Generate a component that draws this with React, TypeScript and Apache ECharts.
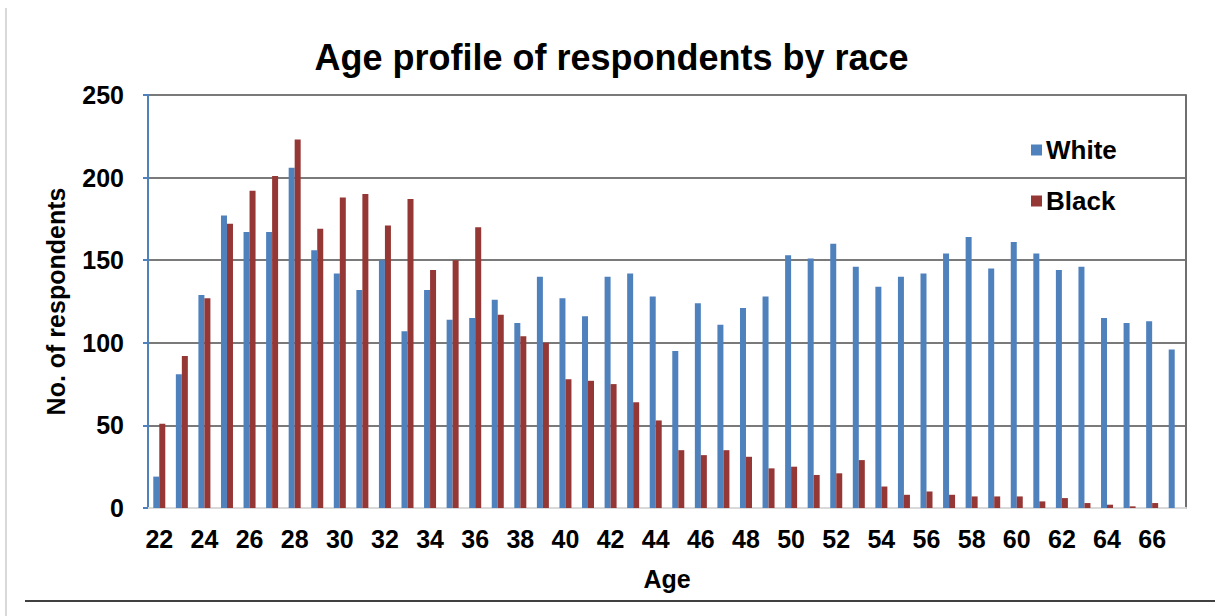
import React, { useEffect, useRef } from "react";
import * as echarts from "echarts";

const ages: string[] = [
  "22","23","24","25","26","27","28","29","30","31","32","33","34","35","36","37",
  "38","39","40","41","42","43","44","45","46","47","48","49","50","51","52","53",
  "54","55","56","57","58","59","60","61","62","63","64","65","66","67",
];

const white: number[] = [
  19, 81, 129, 177, 167, 167, 206, 156, 142, 132, 150, 107, 132, 114, 115, 126,
  112, 140, 127, 116, 140, 142, 128, 95, 124, 111, 121, 128, 153, 151, 160, 146,
  134, 140, 142, 154, 164, 145, 161, 154, 144, 146, 115, 112, 113, 96,
];

const black: (number | null)[] = [
  51, 92, 127, 172, 192, 201, 223, 169, 188, 190, 171, 187, 144, 150, 170, 117,
  104, 100, 78, 77, 75, 64, 53, 35, 32, 35, 31, 24, 25, 20, 21, 29,
  13, 8, 10, 8, 7, 7, 7, 4, 6, 3, 2, 1, 3, null,
];

const yTicks = { min: 0, max: 250, interval: 50 };

export default function App() {
  const ref = useRef<HTMLDivElement>(null);
  useEffect(() => {
    if (!ref.current) return;
    const chart = echarts.init(ref.current, undefined, { renderer: "svg" });
    const font = "'Liberation Sans', Arial, sans-serif";
    chart.setOption({
      animation: false,
      backgroundColor: "#ffffff",
      textStyle: { fontFamily: font },
      title: {
        text: "Age profile of respondents by race",
        left: "center",
        top: 34,
        textStyle: { fontSize: 36, fontWeight: "bold", color: "#000", fontFamily: font },
      },
      legend: {
        orient: "vertical",
        left: 1026,
        top: 132,
        itemWidth: 11,
        itemHeight: 11,
        itemGap: 25,
        icon: "rect",
        textStyle: { fontSize: 26, fontWeight: "bold", color: "#000", fontFamily: font, padding: [0, 0, 0, -1] },
        data: ["White", "Black"],
      },
      grid: { left: 148, right: 37, top: 95, bottom: 108, containLabel: false },
      xAxis: {
        type: "category",
        data: ages,
        name: "Age",
        nameLocation: "middle",
        nameGap: 58,
        nameTextStyle: { fontSize: 25, fontWeight: "bold", color: "#000", fontFamily: font },
        axisLine: { lineStyle: { color: "#d9d9d9", width: 2 } },
        axisTick: { interval: 1, length: 8, lineStyle: { color: "#d9d9d9", width: 2 } },
        axisLabel: { interval: 1, fontSize: 25, fontWeight: "bold", color: "#000", margin: 18, fontFamily: font },
      },
      yAxis: [
        {
          type: "value",
          min: yTicks.min,
          max: yTicks.max,
          interval: yTicks.interval,
          name: "No. of respondents",
          nameLocation: "middle",
          nameGap: 80,
          nameTextStyle: { fontSize: 25, fontWeight: "bold", color: "#000", fontFamily: font },
          axisLine: { show: true, lineStyle: { color: "#4f81bd", width: 2 } },
          axisTick: { show: true, length: 5, lineStyle: { color: "#4f81bd", width: 2 } },
          axisLabel: { fontSize: 25, fontWeight: "bold", color: "#000", margin: 24, fontFamily: font },
          splitLine: { lineStyle: { color: "#7a7a7a", width: 2 } },
        },
        {
          type: "value",
          min: yTicks.min,
          max: yTicks.max,
          interval: yTicks.interval,
          position: "right",
          axisLine: { show: true, lineStyle: { color: "#6f6f6f", width: 2 } },
          axisTick: { show: false },
          axisLabel: { show: false },
          splitLine: { show: false },
        },
      ],
      series: [
        {
          name: "White",
          type: "bar",
          data: white,
          barWidth: 6,
          barGap: "0%",
          itemStyle: { color: "#4f81bd" },
        },
        {
          name: "Black",
          type: "bar",
          data: black,
          barWidth: 6,
          barGap: "0%",
          itemStyle: { color: "#953735" },
        },
      ],
      graphic: [
        { type: "line", shape: { x1: 6, y1: 8, x2: 6, y2: 616 }, style: { stroke: "#d9d9d9", lineWidth: 2 } },
        { type: "line", shape: { x1: 25, y1: 601, x2: 1215, y2: 601 }, style: { stroke: "#404040", lineWidth: 2 } },
      ],
    });
    return () => chart.dispose();
  }, []);
  return (
    <div
      ref={ref}
      style={{ position: "fixed", left: 0, top: 0, width: 1223, height: 616 }}
    />
  );
}
